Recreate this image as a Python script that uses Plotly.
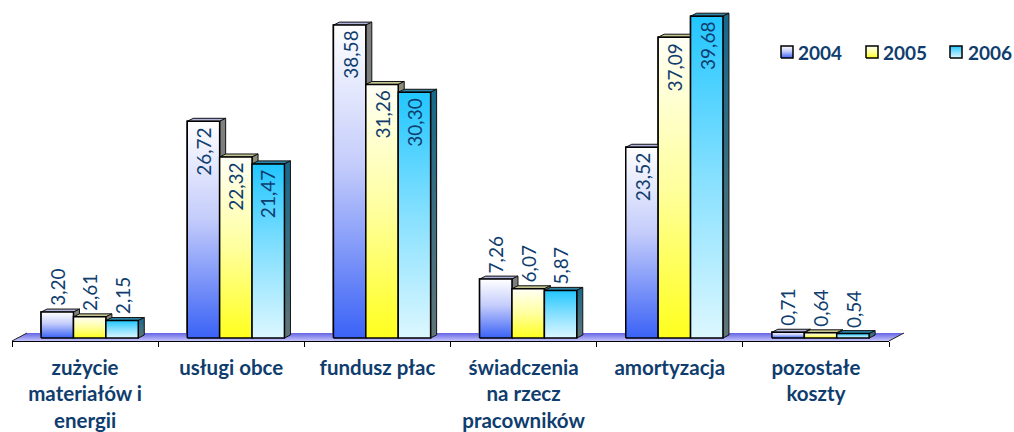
import plotly.graph_objects as go

categories = ["zużycie<br>materiałów i<br>energii", "usługi obce", "fundusz płac",
              "świadczenia<br>na rzecz<br>pracowników", "amortyzacja", "pozostałe<br>koszty"]
years = ["2004", "2005", "2006"]
values_2004 = [3.20, 26.72, 38.58, 7.26, 23.52, 0.71]
values_2005 = [2.61, 22.32, 31.26, 6.07, 37.09, 0.64]
values_2006 = [2.15, 21.47, 30.30, 5.87, 39.68, 0.54]
labels_2004 = ["3,20", "26,72", "38,58", "7,26", "23,52", "0,71"]
labels_2005 = ["2,61", "22,32", "31,26", "6,07", "37,09", "0,64"]
labels_2006 = ["2,15", "21,47", "30,30", "5,87", "39,68", "0,54"]

series = [values_2004, values_2005, values_2006]
labels = [labels_2004, labels_2005, labels_2006]

# styling (the page's body margin is removed below, so the figure fills the window)
TEXT = "#0f3d6e"
W, H = 1014, 432
L, R, T, B = 12, 0, 0, 91
AXIS_PX = 877               # width of the category axis
PLOT_PX = W - L - R         # width of the plot area (axis + floor overhang + legend)
PX_X = AXIS_PX / 6          # px per category
PX_Y = 8.11                 # px per value unit
BAR_W = 32.4 / PX_X
OFFS = [-44 / PX_X, -11.6 / PX_X, 20.8 / PX_X]
DX, DY = 6 / PX_X, 3 / PX_Y
front_scales = [
    [[0, "#3a62f6"], [0.55, "#c4ccfb"], [1, "#ffffff"]],
    [[0, "#ffff1e"], [0.5, "#ffff9e"], [1, "#fffff6"]],
    [[0, "#dcf7ff"], [0.5, "#86e0ff"], [1, "#22c6ff"]],
]
side_scales = [
    [[0, "#5f6f70"], [1, "#808080"]],
    [[0, "#70705a"], [1, "#8c8c78"]],
    [[0, "#5f7478"], [1, "#17688a"]],
]
top_colors = ["#b0b4dc", "#c4c490", "#2a86a8"]
mid_colors = ["#a4b2fa", "#ffff9e", "#7edcff"]
legend_swatch_left = [781, 866, 950]   # page px
legend_text_left = [798, 883, 968]     # page px
legend_top, legend_bottom, legend_mid = 46, 58, 52


def page_x(px):
    return (px - 12) / PX_X - 0.5


def page_y(py):
    return (338 - py) / PX_Y


fig = go.Figure()

# real bars (carry the data)
for k, vals in enumerate(series):
    fig.add_bar(x=list(range(6)), y=vals, name=years[k], width=BAR_W, offset=OFFS[k],
                marker=dict(color=mid_colors[k], line=dict(color="black", width=1.5)),
                hoverinfo="skip", showlegend=False)

# floor
fx0, fx1 = -0.5, 5.5
fy0, fy1 = -3 / PX_Y, 5 / PX_Y
fdx = 15 / PX_X
fig.add_scatter(x=[fx0, fx1, fx1 + fdx, fx0 + fdx, fx0], y=[fy0, fy0, fy1, fy1, fy0], xaxis="x2",
                mode="lines", line=dict(width=0), fill="toself",
                fillgradient=dict(type="vertical", colorscale=[[0, "#c4c4fa"], [1, "#6464e6"]]),
                cliponaxis=False, showlegend=False, hoverinfo="skip")
fig.add_scatter(x=[fx0, fx0 + fdx, None, fx1, fx1 + fdx], y=[fy0, fy1, None, fy0, fy1], xaxis="x2",
                mode="lines", line=dict(color="#222222", width=1),
                cliponaxis=False, showlegend=False, hoverinfo="skip")

# 3D faces, drawn from the series values
for k, vals in enumerate(series):
    for i, v in enumerate(vals):
        x0 = i + OFFS[k]
        x1 = x0 + BAR_W
        # top
        fig.add_scatter(x=[x0, x1, x1 + DX, x0 + DX, x0], y=[v, v, v + DY, v + DY, v], xaxis="x2",
                        mode="lines", line=dict(color="#111111", width=1), fill="toself",
                        fillcolor=top_colors[k], showlegend=False, hoverinfo="skip", cliponaxis=False)
        # side
        fig.add_scatter(x=[x1, x1 + DX, x1 + DX, x1, x1], y=[0, DY, v + DY, v, 0], xaxis="x2",
                        mode="lines", line=dict(color="#111111", width=1), fill="toself",
                        fillgradient=dict(type="vertical", colorscale=side_scales[k]),
                        showlegend=False, hoverinfo="skip", cliponaxis=False)
        # front
        fig.add_scatter(x=[x0, x1, x1, x0, x0], y=[0, 0, v, v, 0], xaxis="x2",
                        mode="lines", line=dict(color="black", width=1.5), fill="toself",
                        fillgradient=dict(type="vertical", colorscale=front_scales[k]),
                        showlegend=False, hoverinfo="skip", cliponaxis=False)

# value labels
annotations = []
for k, vals in enumerate(series):
    for i, v in enumerate(vals):
        inside = v >= 20
        annotations.append(dict(
            x=i + OFFS[k] + BAR_W / 2, y=v, text=labels[k][i], showarrow=False, textangle=-90,
            yanchor="top" if inside else "bottom", yshift=-4 if inside else 4,
            font=dict(family="Lato", size=19, color=TEXT)))

# legend: gradient swatches and year labels
for k, year in enumerate(years):
    a, b = page_x(legend_swatch_left[k]), page_x(legend_swatch_left[k] + 12)
    t, u = page_y(legend_top), page_y(legend_bottom)
    fig.add_scatter(x=[a, b, b, a, a], y=[u, u, t, t, u], xaxis="x2",
                    mode="lines", line=dict(color="black", width=1.5), fill="toself",
                    fillgradient=dict(type="vertical", colorscale=front_scales[k]),
                    showlegend=False, hoverinfo="skip", cliponaxis=False)
    annotations.append(dict(
        x=page_x(legend_text_left[k]), y=page_y(legend_mid), xref="x2", yref="y", text=year,
        showarrow=False, xanchor="left", yanchor="middle", borderpad=0, borderwidth=0,
        font=dict(family="Lato", size=19, color=TEXT, weight="bold")))

fig.update_layout(
    width=W, height=H, margin=dict(l=L, r=R, t=T, b=B, autoexpand=False),
    paper_bgcolor="white", plot_bgcolor="rgba(0,0,0,0)", barmode="overlay",
    font=dict(family="Lato", color=TEXT),
    annotations=annotations,
    showlegend=False,
    xaxis=dict(type="linear", domain=[0, AXIS_PX / PLOT_PX], range=[-0.5, 5.5], showgrid=False, zeroline=False,
               showline=True, linecolor="black", linewidth=1,
               tickmode="array", tickvals=list(range(6)),
               ticktext=categories,
               ticks="", ticklabelstandoff=8,
               tickfont=dict(family="Lato", size=20.5, color=TEXT, weight="bold"),
               minor=dict(tickmode="array", tickvals=[i - 0.5 for i in range(7)], ticks="outside",
                          ticklen=5, tickcolor="black", tickwidth=1, showgrid=False)),
    xaxis2=dict(domain=[0, 1], range=[-0.5, -0.5 + PLOT_PX / PX_X], anchor="y", visible=False,
                showgrid=False, zeroline=False),
    yaxis=dict(range=[-3 / PX_Y, 338 / PX_Y], visible=False, showgrid=False, zeroline=False),
)
fig.write_html("out.html", config=dict(displayModeBar=False),
               post_script="document.body.style.margin='0';document.documentElement.style.overflow='hidden';")
